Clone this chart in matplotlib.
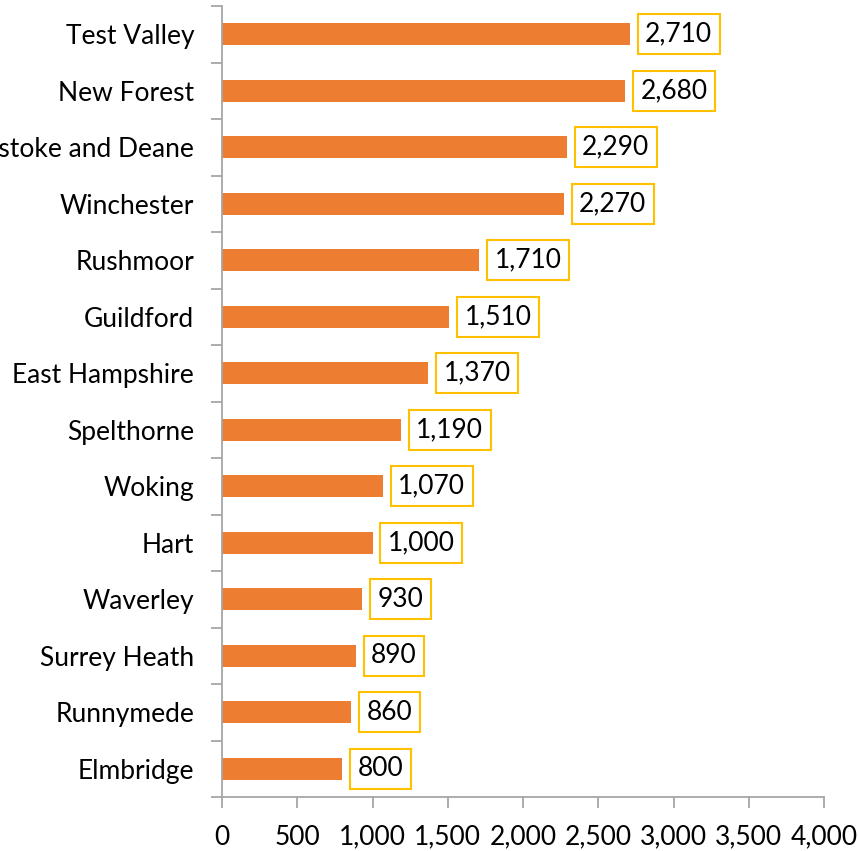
import matplotlib
matplotlib.use('Agg')
import matplotlib.pyplot as plt

# district totals, top to bottom as drawn
districts = ["Test Valley", "New Forest", "Basingstoke and Deane", "Winchester",
             "Rushmoor", "Guildford", "East Hampshire", "Spelthorne", "Woking",
             "Hart", "Waverley", "Surrey Heath", "Runnymede", "Elmbridge"]
values = [2710, 2680, 2290, 2270, 1710, 1510, 1370, 1190, 1070, 1000,
          930, 890, 860, 800]
x_ticks = [0, 500, 1000, 1500, 2000, 2500, 3000, 3500, 4000]

BAR_COLOR = '#ED7D31'
BOX_COLOR = '#FFC000'
AXIS_COLOR = '#A6A6A6'

plt.rcParams['font.family'] = ['Lato', 'DejaVu Sans']

fig = plt.figure(figsize=(8.58, 8.51), dpi=100)
ax = fig.add_axes([222 / 858, 1 - 797 / 851, 602 / 858, 791 / 851])

n = len(districts)
ypos = list(range(n))[::-1]
ax.barh(ypos, values, height=0.39, color=BAR_COLOR)

for y, v in zip(ypos, values):
    ax.annotate(f'{v:,}', xy=(v, y), xytext=(11, 0), textcoords='offset points',
                va='center', ha='left', fontsize=19,
                bbox=dict(boxstyle='square,pad=0.28', fc='white', ec=BOX_COLOR, lw=1.5))

ax.set_xlim(0, 4000)
ax.set_ylim(-0.5, n - 0.5)
ax.set_xticks(x_ticks)
ax.set_xticklabels([f'{t:,}' for t in x_ticks], fontsize=19)
ax.set_yticks(ypos)
ax.set_yticklabels(districts, fontsize=19)
ax.set_yticks([i - 0.5 for i in range(n + 1)], minor=True)

for side in ['top', 'right']:
    ax.spines[side].set_visible(False)
for side in ['left', 'bottom']:
    ax.spines[side].set_color(AXIS_COLOR)
    ax.spines[side].set_linewidth(1.3)

ax.tick_params(axis='y', which='major', length=0, pad=20)
ax.tick_params(axis='y', which='minor', length=8, width=1.3, color=AXIS_COLOR)
ax.tick_params(axis='x', length=8, width=1.3, color=AXIS_COLOR, pad=12)

fig.savefig('out.png', dpi=100)
